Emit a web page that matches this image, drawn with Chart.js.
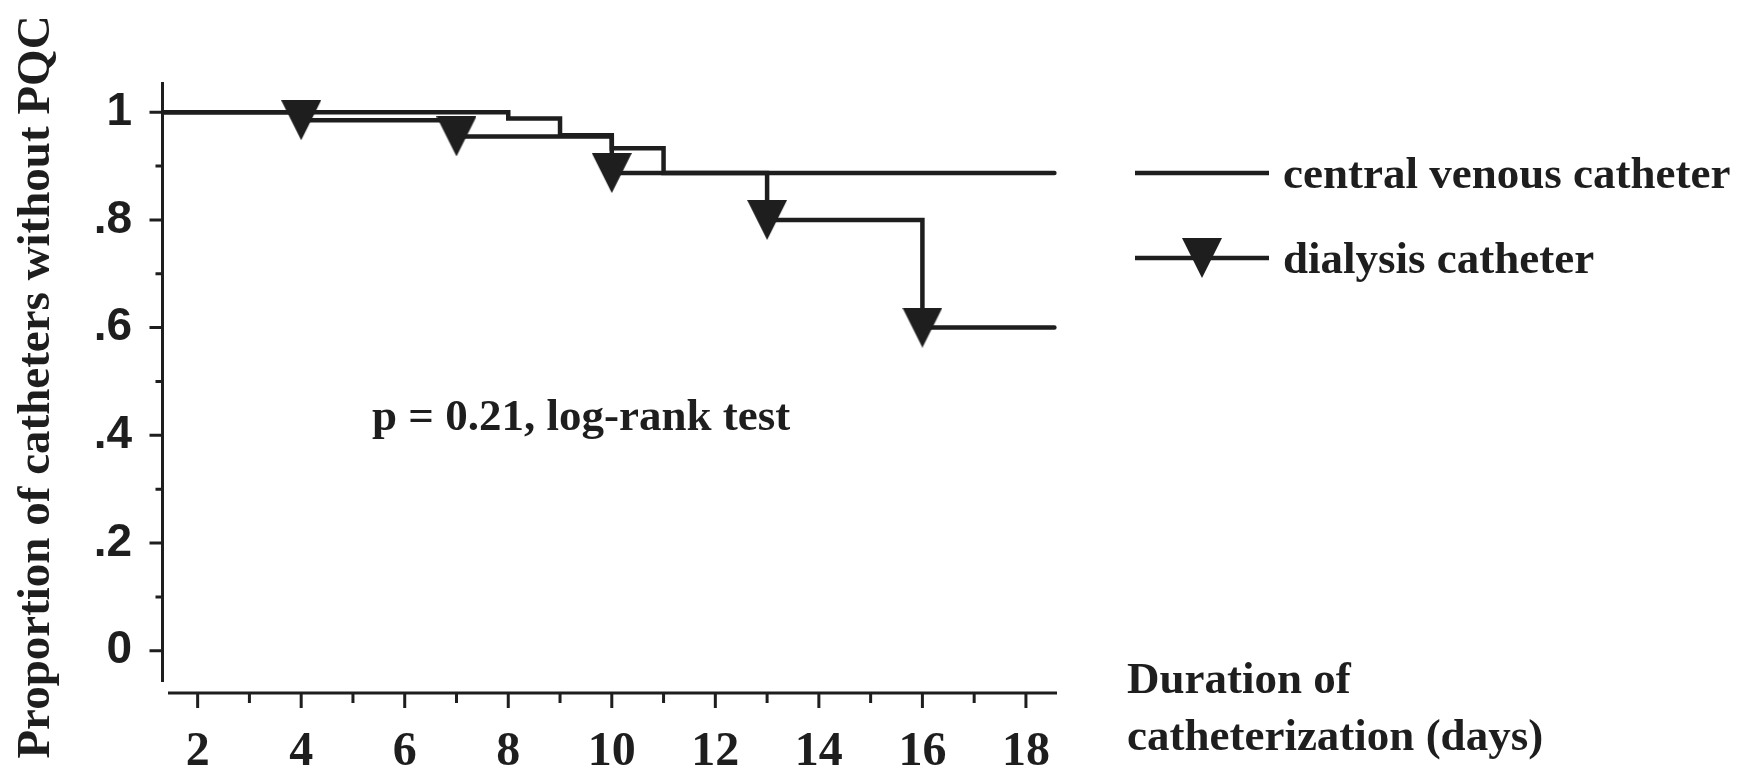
<!DOCTYPE html>
<html>
<head>
<meta charset="utf-8">
<script src="https://cdn.jsdelivr.net/npm/chart.js@4.4.1/dist/chart.umd.min.js"></script>
<style>
  html, body { margin: 0; padding: 0; background: #fff; }
</style>
</head>
<body>
<canvas id="kmChart" width="1753" height="773"></canvas>
<script>
// Kaplan-Meier curves: proportion of catheters without PQC
const seriesNames = ['central venous catheter', 'dialysis catheter'];
const cvcDays = [1.35, 8, 9, 10, 11, 18.55];
const cvcSurvival = [1, 0.988, 0.957, 0.933, 0.887, 0.887];
const dialysisDays = [1.35, 4, 7, 10, 13, 16, 18.55];
const dialysisSurvival = [1, 0.985, 0.955, 0.887, 0.80, 0.60, 0.60];
const dialysisEvents = [4, 7, 10, 13, 16];   // days marked with a triangle

const xTickValues = [2, 4, 6, 8, 10, 12, 14, 16, 18];
const xMinorValues = [3, 5, 7, 9, 11, 13, 15, 17];
const yTickValues = [0, 0.2, 0.4, 0.6, 0.8, 1];
const yTickLabels = ['0', '.2', '.4', '.6', '.8', '1'];
const yMinorValues = [0.1, 0.3, 0.5, 0.7, 0.9];

const INK = '#1e1e1e';
const SERIF = '"Liberation Serif", "Times New Roman", serif';
const SANS = '"Liberation Sans", Arial, sans-serif';

// downward triangle marker
function makeTriangle(w, h) {
    const c = document.createElement('canvas');
    c.width = w;
    c.height = h;
    const g = c.getContext('2d');
    g.fillStyle = INK;
    g.beginPath();
    g.moveTo(0, 0);
    g.lineTo(w, 0);
    g.lineTo(w / 2, h);
    g.closePath();
    g.fill();
    return c;
}
const triangle = makeTriangle(40, 40);

// detached axes, minor ticks, legend and text labels
const figureDecor = {
    id: 'figureDecor',
    afterDraw(chart) {
        const { ctx, chartArea: area, scales: { x, y } } = chart;
        ctx.save();
        ctx.strokeStyle = INK;
        ctx.fillStyle = INK;
        ctx.lineWidth = 3;

        // y axis
        const ax = area.left - 1.5;
        ctx.beginPath();
        ctx.moveTo(ax, area.top);
        ctx.lineTo(ax, area.bottom);
        yTickValues.forEach(v => {
            const py = y.getPixelForValue(v);
            ctx.moveTo(ax, py);
            ctx.lineTo(ax - 13, py);
        });
        yMinorValues.forEach(v => {
            const py = y.getPixelForValue(v);
            ctx.moveTo(ax, py);
            ctx.lineTo(ax - 7, py);
        });
        ctx.stroke();

        // x axis, sits a little below the plot
        const ay = area.bottom + 11;
        ctx.beginPath();
        ctx.moveTo(area.left + 4, ay);
        ctx.lineTo(area.right, ay);
        xTickValues.forEach(v => {
            const px = x.getPixelForValue(v);
            ctx.moveTo(px, ay);
            ctx.lineTo(px, ay + 15);
        });
        xMinorValues.forEach(v => {
            const px = x.getPixelForValue(v);
            ctx.moveTo(px, ay);
            ctx.lineTo(px, ay + 10);
        });
        ctx.stroke();

        // legend
        ctx.lineWidth = 4.5;
        ctx.beginPath();
        ctx.moveTo(1135, 173);
        ctx.lineTo(1269, 173);
        ctx.moveTo(1135, 258);
        ctx.lineTo(1269, 258);
        ctx.stroke();
        ctx.drawImage(triangle, 1202 - 20, 258 - 20);

        ctx.font = 'bold 45px ' + SERIF;
        ctx.textBaseline = 'alphabetic';
        ctx.textAlign = 'left';
        ctx.fillText(seriesNames[0], 1283, 188);
        ctx.fillText(seriesNames[1], 1283, 273);

        ctx.fillText('p = 0.21, log-rank test', 372, 430);

        ctx.fillText('Duration of', 1127, 693);
        ctx.fillText('catheterization (days)', 1127, 750);

        // y axis title
        ctx.translate(49, 387);
        ctx.rotate(-Math.PI / 2);
        ctx.textAlign = 'center';
        ctx.font = 'bold 47px ' + SERIF;
        ctx.fillText('Proportion of catheters without PQC', 0, 0);
        ctx.restore();
    }
};

const ctx = document.getElementById('kmChart');

new Chart(ctx, {
    type: 'line',
    data: {
        datasets: [{
            label: seriesNames[0],
            data: cvcDays.map((d, i) => ({ x: d, y: cvcSurvival[i] })),
            borderColor: INK,
            borderWidth: 4.5,
            borderCapStyle: 'round',
            stepped: true,
            fill: false,
            pointRadius: 0
        }, {
            label: seriesNames[1],
            data: dialysisDays.map((d, i) => ({ x: d, y: dialysisSurvival[i] })),
            borderColor: INK,
            borderWidth: 4.5,
            borderCapStyle: 'round',
            stepped: true,
            fill: false,
            pointStyle: triangle,
            pointRadius: c => (c.raw && dialysisEvents.includes(c.raw.x)) ? 20 : 0
        }]
    },
    options: {
        responsive: false,
        animation: false,
        clip: false,
        layout: {
            padding: { top: 82, right: 696, left: 0, bottom: 0 }
        },
        plugins: {
            legend: { display: false },
            tooltip: { enabled: false }
        },
        scales: {
            x: {
                type: 'linear',
                min: 1.35,
                max: 18.6,
                afterBuildTicks: s => { s.ticks = xTickValues.map(v => ({ value: v })); },
                afterFit: s => { s.height = 91; },
                grid: { display: false, drawTicks: false },
                border: { display: false },
                ticks: {
                    autoSkip: false,
                    maxRotation: 0,
                    padding: 42,
                    color: INK,
                    font: { family: SERIF, size: 48, weight: 'bold' }
                }
            },
            y: {
                type: 'linear',
                min: -0.058,
                max: 1.056,
                afterBuildTicks: s => { s.ticks = yTickValues.map(v => ({ value: v })); },
                afterFit: s => { s.width = 164; },
                grid: { display: false, drawTicks: false },
                border: { display: false },
                ticks: {
                    autoSkip: false,
                    padding: 32,
                    color: INK,
                    font: { family: SANS, size: 46, weight: 'bold' },
                    callback: (v, i) => yTickLabels[i]
                }
            }
        }
    },
    plugins: [figureDecor]
});
</script>
</body>
</html>
